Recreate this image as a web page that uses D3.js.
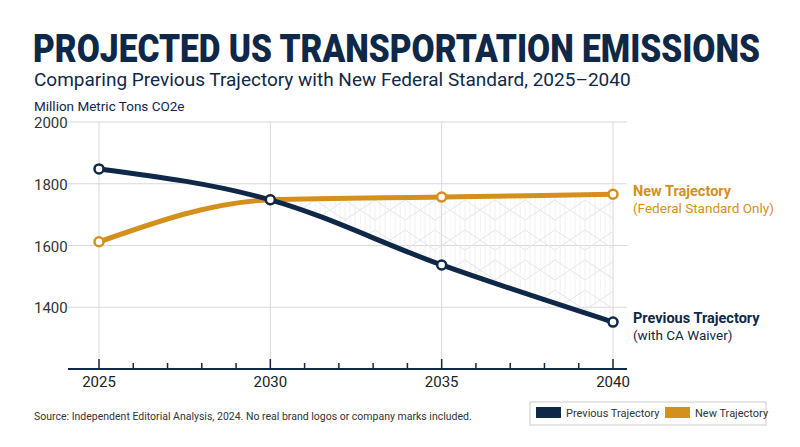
<!DOCTYPE html>
<html><head><meta charset="utf-8">
<script src="https://cdn.jsdelivr.net/npm/d3@7"></script>
<style>body{margin:0;background:#fff}text{font-family:Roboto,"Noto Sans",sans-serif}</style>
</head><body><svg id="c" width="800" height="447"></svg>
<script>
const years=[2025,2030,2035,2040];
const previous=[1848,1748,1537,1352];
const newer=[1612,1748,1757,1766];
const yTicks=[1400,1600,1800,2000];
const navy="#0f2847", gold="#d4901c";
const svg=d3.select("#c");
const x=d3.scaleLinear().domain([2025,2040]).range([99,613]);
const y=d3.scaleLinear().domain([1200,2000]).range([369,122]);
svg.append("text").attr("x",33).attr("y",62).attr("font-size",38).attr("font-weight",900).attr("fill",navy)
 .attr("textLength",727).attr("lengthAdjust","spacingAndGlyphs").text("PROJECTED US TRANSPORTATION EMISSIONS");
svg.append("text").attr("x",34).attr("y",86).attr("font-size",19).attr("fill",navy).text("Comparing Previous Trajectory with New Federal Standard, 2025–2040");
svg.append("text").attr("x",34).attr("y",111).attr("font-size",13.5).attr("fill",navy).text("Million Metric Tons CO2e");
svg.append("g").selectAll("line").data(yTicks).join("line").attr("x1",68).attr("x2",627)
 .attr("y1",d=>y(d)).attr("y2",d=>y(d)).attr("stroke","#d8d8d8");
svg.append("g").selectAll("line").data(years).join("line").attr("y1",122).attr("y2",369)
 .attr("x1",d=>x(d)).attr("x2",d=>x(d)).attr("stroke","#d8d8d8");
svg.append("g").selectAll("text").data(yTicks).join("text").attr("x",34).attr("y",d=>y(d)+6)
 .attr("font-size",15).attr("fill","#333").text(d=>d);
const defs=svg.append("defs");
const p=defs.append("pattern").attr("id","h").attr("width",30).attr("height",30).attr("patternUnits","userSpaceOnUse");
[0,5,10,15,20,25].forEach(o=>{p.append("path").attr("d",`M${o},0 v30`).attr("stroke","#ececec").attr("stroke-width",0.8)});
p.append("path").attr("d","M0,0 L15,10 L30,0 M0,30 L15,20 L30,30").attr("stroke","#e6e6e6").attr("stroke-width",1).attr("fill","none");
const cur=d3.curveMonotoneX;
svg.append("path").datum(years.slice(1)).attr("d",d3.area().x(d=>x(d)).y0(d=>y(previous[years.indexOf(d)])).y1(d=>y(newer[years.indexOf(d)])).curve(cur)).attr("fill","url(#h)");
const ax=svg.append("g").attr("transform","translate(0,369)");
ax.append("line").attr("x1",68).attr("x2",627).attr("stroke",navy).attr("stroke-width",2);
ax.selectAll("line.t").data(d3.range(2025,2041)).join("line").attr("class","t").attr("x1",d=>x(d)).attr("x2",d=>x(d))
 .attr("y1",0).attr("y2",d=>d%5==0?-10:-6).attr("stroke",navy).attr("stroke-width",1.5);
ax.selectAll("text").data(years).join("text").attr("x",d=>x(d)).attr("y",18).attr("text-anchor","middle")
 .attr("font-size",15).attr("fill","#222").text(d=>d);
const line=d3.line().x((d,i)=>x(years[i])).y(d=>y(d)).curve(cur);
[[newer,gold],[previous,navy]].forEach(([s,c])=>{
 svg.append("path").datum(s).attr("d",line).attr("fill","none").attr("stroke",c).attr("stroke-width",5);
 svg.append("g").selectAll("circle").data(s).join("circle").attr("cx",(d,i)=>x(years[i])).attr("cy",d=>y(d))
  .attr("r",4.5).attr("fill","#fff").attr("stroke",c).attr("stroke-width",2.5);
});
svg.append("text").attr("x",633).attr("y",196).attr("font-size",14.5).attr("font-weight",700).attr("fill",gold).text("New Trajectory");
svg.append("text").attr("x",633).attr("y",213).attr("font-size",13.5).attr("fill",gold).text("(Federal Standard Only)");
svg.append("text").attr("x",633).attr("y",323).attr("font-size",14.5).attr("font-weight",700).attr("fill",navy).text("Previous Trajectory");
svg.append("text").attr("x",633).attr("y",340).attr("font-size",13.5).attr("fill",navy).text("(with CA Waiver)");
svg.append("text").attr("x",34).attr("y",420).attr("font-size",10.5).attr("fill","#333").text("Source: Independent Editorial Analysis, 2024. No real brand logos or company marks included.");
svg.append("rect").attr("x",530).attr("y",402).attr("width",236).attr("height",23).attr("fill","#fff").attr("stroke","#ccc");
[["Previous Trajectory",navy,536],["New Trajectory",gold,665]].forEach(([t,c,lx])=>{
 svg.append("rect").attr("x",lx).attr("y",407).attr("width",25).attr("height",11).attr("fill",c);
 svg.append("text").attr("x",lx+30).attr("y",417).attr("font-size",11).attr("fill","#333").text(t);
});
</script></body></html>
